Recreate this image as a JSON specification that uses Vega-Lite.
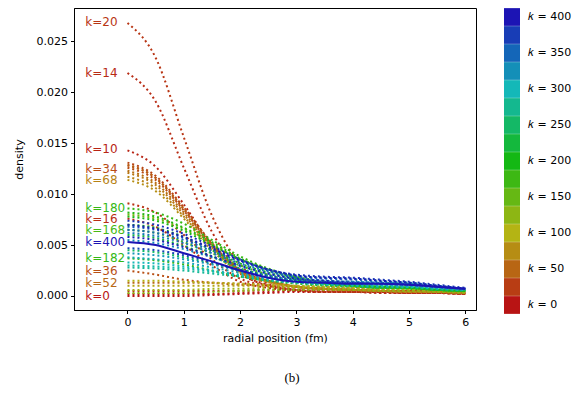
{
"$schema": "https://vega.github.io/schema/vega-lite/v6.json",
"width": 402, "height": 302, "autosize": "none",
"padding": {"left": 74, "top": 8, "right": 109, "bottom": 84},
"background": "white",
"title": {"text": "(b)", "orient": "bottom", "anchor": "middle", "frame": "group", "font": "Liberation Serif", "fontSize": 13, "fontWeight": "normal", "color": "#000000", "dx": 17, "offset": 28},
"config": {
 "view": {"stroke": "#000", "strokeWidth": 1},
 "title": {"color": "#000000"},
 "axis": {"domainColor": "#000", "tickColor": "#000", "labelColor": "#000", "titleColor": "#000", "labelFont": "DejaVu Sans", "titleFont": "DejaVu Sans", "labelFontSize": 11, "titleFontSize": 11, "titleFontWeight": "normal", "tickSize": 3.5, "labelPadding": 3, "grid": false},
 "axisX": {"titlePadding": 5},
 "axisY": {"titlePadding": 12}
},
"datasets": {
"curves": [
{"k":0,"r":0,"d":0},{"k":0,"r":0.5,"d":0},{"k":0,"r":1,"d":0},{"k":0,"r":1.5,"d":0.0001},{"k":0,"r":2,"d":0.0002},{"k":0,"r":2.5,"d":0.0003},{"k":0,"r":3,"d":0.0004},{"k":0,"r":3.5,"d":0.0004},{"k":0,"r":4,"d":0.0004},{"k":0,"r":4.5,"d":0.0004},{"k":0,"r":5,"d":0.0003},{"k":0,"r":5.5,"d":0.0003},{"k":0,"r":6,"d":0.0002},
{"k":4,"r":0,"d":0.0002},{"k":4,"r":0.5,"d":0.0002},{"k":4,"r":1,"d":0.0002},{"k":4,"r":1.5,"d":0.0002},{"k":4,"r":2,"d":0.0003},{"k":4,"r":2.5,"d":0.0004},{"k":4,"r":3,"d":0.0005},{"k":4,"r":3.5,"d":0.0005},{"k":4,"r":4,"d":0.0005},{"k":4,"r":4.5,"d":0.0004},{"k":4,"r":5,"d":0.0004},{"k":4,"r":5.5,"d":0.0003},{"k":4,"r":6,"d":0.0002},
{"k":10,"r":0,"d":0.0143},{"k":10,"r":0.5,"d":0.0127},{"k":10,"r":1,"d":0.009},{"k":10,"r":1.5,"d":0.005},{"k":10,"r":2,"d":0.0022},{"k":10,"r":2.5,"d":0.0011},{"k":10,"r":3,"d":0.0006},{"k":10,"r":3.5,"d":0.0004},{"k":10,"r":4,"d":0.0004},{"k":10,"r":4.5,"d":0.0004},{"k":10,"r":5,"d":0.0003},{"k":10,"r":5.5,"d":0.0003},{"k":10,"r":6,"d":0.0002},
{"k":14,"r":0,"d":0.0219},{"k":14,"r":0.5,"d":0.0191},{"k":14,"r":1,"d":0.0126},{"k":14,"r":1.5,"d":0.0063},{"k":14,"r":2,"d":0.0024},{"k":14,"r":2.5,"d":0.001},{"k":14,"r":3,"d":0.0006},{"k":14,"r":3.5,"d":0.0004},{"k":14,"r":4,"d":0.0004},{"k":14,"r":4.5,"d":0.0003},{"k":14,"r":5,"d":0.0003},{"k":14,"r":5.5,"d":0.0003},{"k":14,"r":6,"d":0.0002},
{"k":16,"r":0,"d":0.0076},{"k":16,"r":0.5,"d":0.0068},{"k":16,"r":1,"d":0.005},{"k":16,"r":1.5,"d":0.003},{"k":16,"r":2,"d":0.0014},{"k":16,"r":2.5,"d":0.0008},{"k":16,"r":3,"d":0.0005},{"k":16,"r":3.5,"d":0.0004},{"k":16,"r":4,"d":0.0004},{"k":16,"r":4.5,"d":0.0003},{"k":16,"r":5,"d":0.0003},{"k":16,"r":5.5,"d":0.0003},{"k":16,"r":6,"d":0.0002},
{"k":18,"r":0,"d":0.0091},{"k":18,"r":0.5,"d":0.0082},{"k":18,"r":1,"d":0.006},{"k":18,"r":1.5,"d":0.0036},{"k":18,"r":2,"d":0.0017},{"k":18,"r":2.5,"d":0.001},{"k":18,"r":3,"d":0.0006},{"k":18,"r":3.5,"d":0.0005},{"k":18,"r":4,"d":0.0004},{"k":18,"r":4.5,"d":0.0004},{"k":18,"r":5,"d":0.0003},{"k":18,"r":5.5,"d":0.0003},{"k":18,"r":6,"d":0.0002},
{"k":20,"r":0,"d":0.0268},{"k":20,"r":0.5,"d":0.0234},{"k":20,"r":1,"d":0.0156},{"k":20,"r":1.5,"d":0.0079},{"k":20,"r":2,"d":0.0031},{"k":20,"r":2.5,"d":0.0012},{"k":20,"r":3,"d":0.0006},{"k":20,"r":3.5,"d":0.0004},{"k":20,"r":4,"d":0.0004},{"k":20,"r":4.5,"d":0.0004},{"k":20,"r":5,"d":0.0004},{"k":20,"r":5.5,"d":0.0003},{"k":20,"r":6,"d":0.0003},
{"k":24,"r":0,"d":0.0005},{"k":24,"r":0.5,"d":0.0005},{"k":24,"r":1,"d":0.0005},{"k":24,"r":1.5,"d":0.0005},{"k":24,"r":2,"d":0.0005},{"k":24,"r":2.5,"d":0.0006},{"k":24,"r":3,"d":0.0006},{"k":24,"r":3.5,"d":0.0006},{"k":24,"r":4,"d":0.0005},{"k":24,"r":4.5,"d":0.0005},{"k":24,"r":5,"d":0.0004},{"k":24,"r":5.5,"d":0.0003},{"k":24,"r":6,"d":0.0002},
{"k":30,"r":0,"d":0.0131},{"k":30,"r":0.5,"d":0.0118},{"k":30,"r":1,"d":0.0087},{"k":30,"r":1.5,"d":0.0052},{"k":30,"r":2,"d":0.0026},{"k":30,"r":2.5,"d":0.0015},{"k":30,"r":3,"d":0.0009},{"k":30,"r":3.5,"d":0.0007},{"k":30,"r":4,"d":0.0006},{"k":30,"r":4.5,"d":0.0005},{"k":30,"r":5,"d":0.0005},{"k":30,"r":5.5,"d":0.0004},{"k":30,"r":6,"d":0.0003},
{"k":34,"r":0,"d":0.0126},{"k":34,"r":0.5,"d":0.0114},{"k":34,"r":1,"d":0.0084},{"k":34,"r":1.5,"d":0.005},{"k":34,"r":2,"d":0.0025},{"k":34,"r":2.5,"d":0.0015},{"k":34,"r":3,"d":0.0009},{"k":34,"r":3.5,"d":0.0007},{"k":34,"r":4,"d":0.0006},{"k":34,"r":4.5,"d":0.0005},{"k":34,"r":5,"d":0.0005},{"k":34,"r":5.5,"d":0.0004},{"k":34,"r":6,"d":0.0003},
{"k":36,"r":0,"d":0.0025},{"k":36,"r":0.5,"d":0.0021},{"k":36,"r":1,"d":0.0016},{"k":36,"r":1.5,"d":0.0013},{"k":36,"r":2,"d":0.0011},{"k":36,"r":2.5,"d":0.001},{"k":36,"r":3,"d":0.0009},{"k":36,"r":3.5,"d":0.0008},{"k":36,"r":4,"d":0.0007},{"k":36,"r":4.5,"d":0.0006},{"k":36,"r":5,"d":0.0005},{"k":36,"r":5.5,"d":0.0004},{"k":36,"r":6,"d":0.0003},
{"k":40,"r":0,"d":0.0128},{"k":40,"r":0.5,"d":0.0116},{"k":40,"r":1,"d":0.0085},{"k":40,"r":1.5,"d":0.0051},{"k":40,"r":2,"d":0.0025},{"k":40,"r":2.5,"d":0.0015},{"k":40,"r":3,"d":0.0009},{"k":40,"r":3.5,"d":0.0007},{"k":40,"r":4,"d":0.0006},{"k":40,"r":4.5,"d":0.0005},{"k":40,"r":5,"d":0.0005},{"k":40,"r":5.5,"d":0.0004},{"k":40,"r":6,"d":0.0003},
{"k":44,"r":0,"d":0.0129},{"k":44,"r":0.5,"d":0.0116},{"k":44,"r":1,"d":0.0086},{"k":44,"r":1.5,"d":0.0051},{"k":44,"r":2,"d":0.0025},{"k":44,"r":2.5,"d":0.0015},{"k":44,"r":3,"d":0.0009},{"k":44,"r":3.5,"d":0.0007},{"k":44,"r":4,"d":0.0006},{"k":44,"r":4.5,"d":0.0005},{"k":44,"r":5,"d":0.0005},{"k":44,"r":5.5,"d":0.0004},{"k":44,"r":6,"d":0.0003},
{"k":52,"r":0,"d":0.0013},{"k":52,"r":0.5,"d":0.0013},{"k":52,"r":1,"d":0.0013},{"k":52,"r":1.5,"d":0.0013},{"k":52,"r":2,"d":0.0012},{"k":52,"r":2.5,"d":0.0011},{"k":52,"r":3,"d":0.001},{"k":52,"r":3.5,"d":0.0009},{"k":52,"r":4,"d":0.0008},{"k":52,"r":4.5,"d":0.0007},{"k":52,"r":5,"d":0.0006},{"k":52,"r":5.5,"d":0.0005},{"k":52,"r":6,"d":0.0004},
{"k":56,"r":0,"d":0.0123},{"k":56,"r":0.5,"d":0.0111},{"k":56,"r":1,"d":0.0082},{"k":56,"r":1.5,"d":0.0049},{"k":56,"r":2,"d":0.0024},{"k":56,"r":2.5,"d":0.0014},{"k":56,"r":3,"d":0.0009},{"k":56,"r":3.5,"d":0.0007},{"k":56,"r":4,"d":0.0006},{"k":56,"r":4.5,"d":0.0005},{"k":56,"r":5,"d":0.0004},{"k":56,"r":5.5,"d":0.0004},{"k":56,"r":6,"d":0.0003},
{"k":60,"r":0,"d":0.0121},{"k":60,"r":0.5,"d":0.0109},{"k":60,"r":1,"d":0.008},{"k":60,"r":1.5,"d":0.0048},{"k":60,"r":2,"d":0.0024},{"k":60,"r":2.5,"d":0.0014},{"k":60,"r":3,"d":0.0009},{"k":60,"r":3.5,"d":0.0007},{"k":60,"r":4,"d":0.0006},{"k":60,"r":4.5,"d":0.0005},{"k":60,"r":5,"d":0.0004},{"k":60,"r":5.5,"d":0.0004},{"k":60,"r":6,"d":0.0003},
{"k":68,"r":0,"d":0.0117},{"k":68,"r":0.5,"d":0.0106},{"k":68,"r":1,"d":0.0078},{"k":68,"r":1.5,"d":0.0047},{"k":68,"r":2,"d":0.0023},{"k":68,"r":2.5,"d":0.0014},{"k":68,"r":3,"d":0.0009},{"k":68,"r":3.5,"d":0.0007},{"k":68,"r":4,"d":0.0006},{"k":68,"r":4.5,"d":0.0005},{"k":68,"r":5,"d":0.0004},{"k":68,"r":5.5,"d":0.0004},{"k":68,"r":6,"d":0.0003},
{"k":76,"r":0,"d":0.0114},{"k":76,"r":0.5,"d":0.0103},{"k":76,"r":1,"d":0.0076},{"k":76,"r":1.5,"d":0.0045},{"k":76,"r":2,"d":0.0022},{"k":76,"r":2.5,"d":0.0014},{"k":76,"r":3,"d":0.0009},{"k":76,"r":3.5,"d":0.0007},{"k":76,"r":4,"d":0.0006},{"k":76,"r":4.5,"d":0.0005},{"k":76,"r":5,"d":0.0004},{"k":76,"r":5.5,"d":0.0004},{"k":76,"r":6,"d":0.0003},
{"k":90,"r":0,"d":0.001},{"k":90,"r":0.5,"d":0.001},{"k":90,"r":1,"d":0.001},{"k":90,"r":1.5,"d":0.001},{"k":90,"r":2,"d":0.001},{"k":90,"r":2.5,"d":0.001},{"k":90,"r":3,"d":0.0009},{"k":90,"r":3.5,"d":0.0009},{"k":90,"r":4,"d":0.0008},{"k":90,"r":4.5,"d":0.0007},{"k":90,"r":5,"d":0.0006},{"k":90,"r":5.5,"d":0.0005},{"k":90,"r":6,"d":0.0004},
{"k":100,"r":0,"d":0.0015},{"k":100,"r":0.5,"d":0.0015},{"k":100,"r":1,"d":0.0014},{"k":100,"r":1.5,"d":0.0013},{"k":100,"r":2,"d":0.0012},{"k":100,"r":2.5,"d":0.0011},{"k":100,"r":3,"d":0.001},{"k":100,"r":3.5,"d":0.0009},{"k":100,"r":4,"d":0.0008},{"k":100,"r":4.5,"d":0.0007},{"k":100,"r":5,"d":0.0006},{"k":100,"r":5.5,"d":0.0005},{"k":100,"r":6,"d":0.0004},
{"k":110,"r":0,"d":0.0006},{"k":110,"r":0.5,"d":0.0006},{"k":110,"r":1,"d":0.0006},{"k":110,"r":1.5,"d":0.0007},{"k":110,"r":2,"d":0.0007},{"k":110,"r":2.5,"d":0.0008},{"k":110,"r":3,"d":0.0008},{"k":110,"r":3.5,"d":0.0008},{"k":110,"r":4,"d":0.0007},{"k":110,"r":4.5,"d":0.0006},{"k":110,"r":5,"d":0.0005},{"k":110,"r":5.5,"d":0.0005},{"k":110,"r":6,"d":0.0004},
{"k":126,"r":0,"d":0.0003},{"k":126,"r":0.5,"d":0.0003},{"k":126,"r":1,"d":0.0003},{"k":126,"r":1.5,"d":0.0004},{"k":126,"r":2,"d":0.0005},{"k":126,"r":2.5,"d":0.0006},{"k":126,"r":3,"d":0.0006},{"k":126,"r":3.5,"d":0.0006},{"k":126,"r":4,"d":0.0006},{"k":126,"r":4.5,"d":0.0005},{"k":126,"r":5,"d":0.0005},{"k":126,"r":5.5,"d":0.0004},{"k":126,"r":6,"d":0.0003},
{"k":140,"r":0,"d":0.008},{"k":140,"r":0.5,"d":0.0076},{"k":140,"r":1,"d":0.0066},{"k":140,"r":1.5,"d":0.0051},{"k":140,"r":2,"d":0.0036},{"k":140,"r":2.5,"d":0.0026},{"k":140,"r":3,"d":0.0018},{"k":140,"r":3.5,"d":0.0013},{"k":140,"r":4,"d":0.001},{"k":140,"r":4.5,"d":0.0009},{"k":140,"r":5,"d":0.0008},{"k":140,"r":5.5,"d":0.0006},{"k":140,"r":6,"d":0.0005},
{"k":168,"r":0,"d":0.0065},{"k":168,"r":0.5,"d":0.0062},{"k":168,"r":1,"d":0.0053},{"k":168,"r":1.5,"d":0.0042},{"k":168,"r":2,"d":0.003},{"k":168,"r":2.5,"d":0.0021},{"k":168,"r":3,"d":0.0015},{"k":168,"r":3.5,"d":0.0012},{"k":168,"r":4,"d":0.001},{"k":168,"r":4.5,"d":0.0008},{"k":168,"r":5,"d":0.0008},{"k":168,"r":5.5,"d":0.0006},{"k":168,"r":6,"d":0.0005},
{"k":180,"r":0,"d":0.0086},{"k":180,"r":0.5,"d":0.0082},{"k":180,"r":1,"d":0.0071},{"k":180,"r":1.5,"d":0.0055},{"k":180,"r":2,"d":0.0039},{"k":180,"r":2.5,"d":0.0027},{"k":180,"r":3,"d":0.0019},{"k":180,"r":3.5,"d":0.0014},{"k":180,"r":4,"d":0.0011},{"k":180,"r":4.5,"d":0.0009},{"k":180,"r":5,"d":0.0008},{"k":180,"r":5.5,"d":0.0006},{"k":180,"r":6,"d":0.0005},
{"k":182,"r":0,"d":0.0037},{"k":182,"r":0.5,"d":0.0035},{"k":182,"r":1,"d":0.0031},{"k":182,"r":1.5,"d":0.0025},{"k":182,"r":2,"d":0.0019},{"k":182,"r":2.5,"d":0.0015},{"k":182,"r":3,"d":0.0012},{"k":182,"r":3.5,"d":0.001},{"k":182,"r":4,"d":0.0009},{"k":182,"r":4.5,"d":0.0008},{"k":182,"r":5,"d":0.0007},{"k":182,"r":5.5,"d":0.0006},{"k":182,"r":6,"d":0.0005},
{"k":190,"r":0,"d":0.0082},{"k":190,"r":0.5,"d":0.0078},{"k":190,"r":1,"d":0.0067},{"k":190,"r":1.5,"d":0.0053},{"k":190,"r":2,"d":0.0037},{"k":190,"r":2.5,"d":0.0026},{"k":190,"r":3,"d":0.0018},{"k":190,"r":3.5,"d":0.0013},{"k":190,"r":4,"d":0.0011},{"k":190,"r":4.5,"d":0.0009},{"k":190,"r":5,"d":0.0008},{"k":190,"r":5.5,"d":0.0006},{"k":190,"r":6,"d":0.0005},
{"k":196,"r":0,"d":0.0078},{"k":196,"r":0.5,"d":0.0074},{"k":196,"r":1,"d":0.0064},{"k":196,"r":1.5,"d":0.005},{"k":196,"r":2,"d":0.0036},{"k":196,"r":2.5,"d":0.0025},{"k":196,"r":3,"d":0.0017},{"k":196,"r":3.5,"d":0.0013},{"k":196,"r":4,"d":0.001},{"k":196,"r":4.5,"d":0.0009},{"k":196,"r":5,"d":0.0008},{"k":196,"r":5.5,"d":0.0006},{"k":196,"r":6,"d":0.0005},
{"k":210,"r":0,"d":0.007},{"k":210,"r":0.5,"d":0.0067},{"k":210,"r":1,"d":0.0058},{"k":210,"r":1.5,"d":0.0045},{"k":210,"r":2,"d":0.0032},{"k":210,"r":2.5,"d":0.0023},{"k":210,"r":3,"d":0.0016},{"k":210,"r":3.5,"d":0.0012},{"k":210,"r":4,"d":0.001},{"k":210,"r":4.5,"d":0.0008},{"k":210,"r":5,"d":0.0008},{"k":210,"r":5.5,"d":0.0006},{"k":210,"r":6,"d":0.0005},
{"k":230,"r":0,"d":0.006},{"k":230,"r":0.5,"d":0.0057},{"k":230,"r":1,"d":0.0049},{"k":230,"r":1.5,"d":0.0039},{"k":230,"r":2,"d":0.0027},{"k":230,"r":2.5,"d":0.002},{"k":230,"r":3,"d":0.0014},{"k":230,"r":3.5,"d":0.0011},{"k":230,"r":4,"d":0.001},{"k":230,"r":4.5,"d":0.0008},{"k":230,"r":5,"d":0.0008},{"k":230,"r":5.5,"d":0.0006},{"k":230,"r":6,"d":0.0005},
{"k":250,"r":0,"d":0.0045},{"k":250,"r":0.5,"d":0.0043},{"k":250,"r":1,"d":0.0038},{"k":250,"r":1.5,"d":0.0032},{"k":250,"r":2,"d":0.0025},{"k":250,"r":2.5,"d":0.0019},{"k":250,"r":3,"d":0.0015},{"k":250,"r":3.5,"d":0.0013},{"k":250,"r":4,"d":0.0012},{"k":250,"r":4.5,"d":0.0011},{"k":250,"r":5,"d":0.001},{"k":250,"r":5.5,"d":0.0008},{"k":250,"r":6,"d":0.0006},
{"k":280,"r":0,"d":0.0028},{"k":280,"r":0.5,"d":0.0027},{"k":280,"r":1,"d":0.0025},{"k":280,"r":1.5,"d":0.0022},{"k":280,"r":2,"d":0.0019},{"k":280,"r":2.5,"d":0.0015},{"k":280,"r":3,"d":0.0013},{"k":280,"r":3.5,"d":0.0011},{"k":280,"r":4,"d":0.001},{"k":280,"r":4.5,"d":0.0009},{"k":280,"r":5,"d":0.0009},{"k":280,"r":5.5,"d":0.0007},{"k":280,"r":6,"d":0.0006},
{"k":290,"r":0,"d":0.003},{"k":290,"r":0.5,"d":0.0029},{"k":290,"r":1,"d":0.0027},{"k":290,"r":1.5,"d":0.0024},{"k":290,"r":2,"d":0.002},{"k":290,"r":2.5,"d":0.0016},{"k":290,"r":3,"d":0.0013},{"k":290,"r":3.5,"d":0.0012},{"k":290,"r":4,"d":0.0011},{"k":290,"r":4.5,"d":0.001},{"k":290,"r":5,"d":0.0009},{"k":290,"r":5.5,"d":0.0007},{"k":290,"r":6,"d":0.0006},
{"k":300,"r":0,"d":0.0033},{"k":300,"r":0.5,"d":0.0032},{"k":300,"r":1,"d":0.0029},{"k":300,"r":1.5,"d":0.0025},{"k":300,"r":2,"d":0.0021},{"k":300,"r":2.5,"d":0.0017},{"k":300,"r":3,"d":0.0014},{"k":300,"r":3.5,"d":0.0012},{"k":300,"r":4,"d":0.0011},{"k":300,"r":4.5,"d":0.001},{"k":300,"r":5,"d":0.0009},{"k":300,"r":5.5,"d":0.0008},{"k":300,"r":6,"d":0.0006},
{"k":310,"r":0,"d":0.0038},{"k":310,"r":0.5,"d":0.0036},{"k":310,"r":1,"d":0.0033},{"k":310,"r":1.5,"d":0.0028},{"k":310,"r":2,"d":0.0023},{"k":310,"r":2.5,"d":0.0018},{"k":310,"r":3,"d":0.0015},{"k":310,"r":3.5,"d":0.0013},{"k":310,"r":4,"d":0.0012},{"k":310,"r":4.5,"d":0.0011},{"k":310,"r":5,"d":0.001},{"k":310,"r":5.5,"d":0.0008},{"k":310,"r":6,"d":0.0006},
{"k":320,"r":0,"d":0.0042},{"k":320,"r":0.5,"d":0.004},{"k":320,"r":1,"d":0.0036},{"k":320,"r":1.5,"d":0.0031},{"k":320,"r":2,"d":0.0025},{"k":320,"r":2.5,"d":0.0019},{"k":320,"r":3,"d":0.0015},{"k":320,"r":3.5,"d":0.0013},{"k":320,"r":4,"d":0.0012},{"k":320,"r":4.5,"d":0.0011},{"k":320,"r":5,"d":0.001},{"k":320,"r":5.5,"d":0.0008},{"k":320,"r":6,"d":0.0006},
{"k":330,"r":0,"d":0.0055},{"k":330,"r":0.5,"d":0.0052},{"k":330,"r":1,"d":0.0046},{"k":330,"r":1.5,"d":0.0038},{"k":330,"r":2,"d":0.0029},{"k":330,"r":2.5,"d":0.0022},{"k":330,"r":3,"d":0.0017},{"k":330,"r":3.5,"d":0.0015},{"k":330,"r":4,"d":0.0014},{"k":330,"r":4.5,"d":0.0013},{"k":330,"r":5,"d":0.0012},{"k":330,"r":5.5,"d":0.0009},{"k":330,"r":6,"d":0.0007},
{"k":340,"r":0,"d":0.0062},{"k":340,"r":0.5,"d":0.0059},{"k":340,"r":1,"d":0.0052},{"k":340,"r":1.5,"d":0.0042},{"k":340,"r":2,"d":0.0032},{"k":340,"r":2.5,"d":0.0024},{"k":340,"r":3,"d":0.0018},{"k":340,"r":3.5,"d":0.0015},{"k":340,"r":4,"d":0.0014},{"k":340,"r":4.5,"d":0.0013},{"k":340,"r":5,"d":0.0012},{"k":340,"r":5.5,"d":0.0009},{"k":340,"r":6,"d":0.0007},
{"k":350,"r":0,"d":0.0065},{"k":350,"r":0.5,"d":0.0062},{"k":350,"r":1,"d":0.0055},{"k":350,"r":1.5,"d":0.0044},{"k":350,"r":2,"d":0.0034},{"k":350,"r":2.5,"d":0.0025},{"k":350,"r":3,"d":0.0019},{"k":350,"r":3.5,"d":0.0017},{"k":350,"r":4,"d":0.0016},{"k":350,"r":4.5,"d":0.0014},{"k":350,"r":5,"d":0.0013},{"k":350,"r":5.5,"d":0.001},{"k":350,"r":6,"d":0.0007},
{"k":360,"r":0,"d":0.0068},{"k":360,"r":0.5,"d":0.0065},{"k":360,"r":1,"d":0.0057},{"k":360,"r":1.5,"d":0.0046},{"k":360,"r":2,"d":0.0035},{"k":360,"r":2.5,"d":0.0026},{"k":360,"r":3,"d":0.002},{"k":360,"r":3.5,"d":0.0018},{"k":360,"r":4,"d":0.0017},{"k":360,"r":4.5,"d":0.0015},{"k":360,"r":5,"d":0.0013},{"k":360,"r":5.5,"d":0.001},{"k":360,"r":6,"d":0.0007},
{"k":370,"r":0,"d":0.0047},{"k":370,"r":0.5,"d":0.0045},{"k":370,"r":1,"d":0.004},{"k":370,"r":1.5,"d":0.0033},{"k":370,"r":2,"d":0.0026},{"k":370,"r":2.5,"d":0.002},{"k":370,"r":3,"d":0.0016},{"k":370,"r":3.5,"d":0.0014},{"k":370,"r":4,"d":0.0013},{"k":370,"r":4.5,"d":0.0012},{"k":370,"r":5,"d":0.0011},{"k":370,"r":5.5,"d":0.0009},{"k":370,"r":6,"d":0.0007},
{"k":380,"r":0,"d":0.0074},{"k":380,"r":0.5,"d":0.007},{"k":380,"r":1,"d":0.0061},{"k":380,"r":1.5,"d":0.0049},{"k":380,"r":2,"d":0.0036},{"k":380,"r":2.5,"d":0.0026},{"k":380,"r":3,"d":0.0021},{"k":380,"r":3.5,"d":0.0019},{"k":380,"r":4,"d":0.0018},{"k":380,"r":4.5,"d":0.0016},{"k":380,"r":5,"d":0.0014},{"k":380,"r":5.5,"d":0.0011},{"k":380,"r":6,"d":0.0008},
{"k":390,"r":0,"d":0.0058},{"k":390,"r":0.5,"d":0.0055},{"k":390,"r":1,"d":0.0048},{"k":390,"r":1.5,"d":0.0039},{"k":390,"r":2,"d":0.003},{"k":390,"r":2.5,"d":0.0022},{"k":390,"r":3,"d":0.0017},{"k":390,"r":3.5,"d":0.0015},{"k":390,"r":4,"d":0.0013},{"k":390,"r":4.5,"d":0.0012},{"k":390,"r":5,"d":0.0011},{"k":390,"r":5.5,"d":0.0009},{"k":390,"r":6,"d":0.0007},
{"k":396,"r":0,"d":0.007},{"k":396,"r":0.5,"d":0.0066},{"k":396,"r":1,"d":0.0058},{"k":396,"r":1.5,"d":0.0047},{"k":396,"r":2,"d":0.0035},{"k":396,"r":2.5,"d":0.0026},{"k":396,"r":3,"d":0.002},{"k":396,"r":3.5,"d":0.0018},{"k":396,"r":4,"d":0.0017},{"k":396,"r":4.5,"d":0.0015},{"k":396,"r":5,"d":0.0013},{"k":396,"r":5.5,"d":0.001},{"k":396,"r":6,"d":0.0007},
{"k":400,"r":0,"d":0.0053},{"k":400,"r":0.5,"d":0.005},{"k":400,"r":1,"d":0.0042},{"k":400,"r":1.5,"d":0.0034},{"k":400,"r":2,"d":0.0025},{"k":400,"r":2.5,"d":0.0018},{"k":400,"r":3,"d":0.0014},{"k":400,"r":3.5,"d":0.0013},{"k":400,"r":4,"d":0.0012},{"k":400,"r":4.5,"d":0.0012},{"k":400,"r":5,"d":0.0011},{"k":400,"r":5.5,"d":0.0009},{"k":400,"r":6,"d":0.0007}
],
"labels": [
{"k":20,"t":"k=20","d":0.0269},{"k":14,"t":"k=14","d":0.0219},{"k":10,"t":"k=10","d":0.0144},{"k":34,"t":"k=34","d":0.0125},{"k":68,"t":"k=68","d":0.0114},{"k":180,"t":"k=180","d":0.0086},{"k":16,"t":"k=16","d":0.0076},{"k":168,"t":"k=168","d":0.0065},{"k":400,"t":"k=400","d":0.0053},{"k":182,"t":"k=182","d":0.0037},{"k":36,"t":"k=36","d":0.0025},{"k":52,"t":"k=52","d":0.0013},{"k":0,"t":"k=0","d":0}
]
},
"layer": [
{
 "data": {"name": "curves"},
 "transform": [{"filter": "datum.k != 400"}],
 "mark": {"type": "line", "strokeWidth": 2, "strokeDash": [2, 3], "interpolate": "monotone", "clip": true},
 "encoding": {
  "x": {"field": "r", "type": "quantitative", "title": "radial position (fm)", "scale": {"domain": [-0.95, 6.19], "nice": false, "zero": false}, "axis": {"values": [0,1,2,3,4,5,6], "format": "d"}},
  "y": {"field": "d", "type": "quantitative", "title": "density", "scale": {"domain": [-0.001376, 0.02828], "nice": false, "zero": false}, "axis": {"values": [0,0.005,0.01,0.015,0.02,0.025], "format": ".3f"}},
  "detail": {"field": "k", "type": "nominal"},
  "stroke": {"field": "k", "type": "quantitative", "scale": {"domain": [0, 400], "range": ["#b81414","#b86614","#b4b414","#66b814","#14b814","#14b866","#14b8b8","#1466b8","#1c14b4"], "interpolate": "rgb"},
   "legend": {"type": "symbol", "orient": "none", "legendX": 429, "legendY": 0, "direction": "vertical", "columns": 1, "title": null, "values": [400,375,350,325,300,275,250,225,200,175,150,125,100,75,50,25,0], "symbolType": "M-0.9,-1L0.9,-1L0.9,1L-0.9,1Z", "symbolSize": 315, "symbolStrokeWidth": 0, "symbolOpacity": 1, "rowPadding": 0, "labelExpr": "datum.value % 50 === 0 ? '𝑘 = ' + datum.label : ''", "labelFontSize": 11, "labelFont": "DejaVu Sans", "labelColor": "#000", "labelOffset": 7, "labelOverlap": false, "padding": 0}}
 }
},
{
 "data": {"name": "curves"},
 "transform": [{"filter": "datum.k == 400"}],
 "mark": {"type": "line", "strokeWidth": 2, "interpolate": "monotone", "clip": true},
 "encoding": {
  "x": {"field": "r", "type": "quantitative"},
  "y": {"field": "d", "type": "quantitative"},
  "stroke": {"field": "k", "type": "quantitative",
   "legend": {"type": "symbol", "orient": "none", "legendX": 429, "legendY": 0, "direction": "vertical", "columns": 1, "title": null, "values": [400,375,350,325,300,275,250,225,200,175,150,125,100,75,50,25,0], "symbolType": "M-0.9,-1L0.9,-1L0.9,1L-0.9,1Z", "symbolSize": 315, "symbolStrokeWidth": 0, "symbolOpacity": 1, "rowPadding": 0, "labelExpr": "datum.value % 50 === 0 ? '𝑘 = ' + datum.label : ''", "labelFontSize": 11, "labelFont": "DejaVu Sans", "labelColor": "#000", "labelOffset": 7, "labelOverlap": false, "padding": 0}}
 }
},
{
 "data": {"name": "labels"},
 "mark": {"type": "text", "align": "left", "baseline": "middle", "fontSize": 12, "font": "DejaVu Sans"},
 "encoding": {
  "x": {"datum": -0.75, "type": "quantitative"},
  "y": {"field": "d", "type": "quantitative"},
  "text": {"field": "t"},
  "fill": {"field": "k", "type": "quantitative", "legend": null, "scale": {"domain": [0, 400], "range": ["#b81414","#b86614","#b4b414","#66b814","#14b814","#14b866","#14b8b8","#1466b8","#1c14b4"], "interpolate": "rgb"}}
 }
}
]
}
